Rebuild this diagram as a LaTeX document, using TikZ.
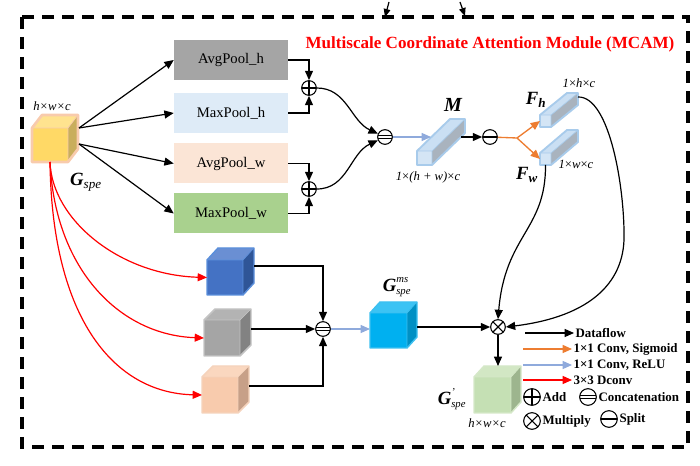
\documentclass[tikz,border=0pt]{standalone}
\usepackage{fontspec}
\setmainfont{Liberation Serif}
\usetikzlibrary{arrows.meta,fit,calc}
\definecolor{yelF}{HTML}{FFD966}\definecolor{yelT}{HTML}{FFE38F}\definecolor{yelS}{HTML}{C9AE5C}\definecolor{yelB}{HTML}{F8CBAD}
\definecolor{bluF}{HTML}{4472C4}\definecolor{bluT}{HTML}{6A8FD3}\definecolor{bluS}{HTML}{2F5597}\definecolor{bluB}{HTML}{5B8FDB}
\definecolor{gryF}{HTML}{A5A5A5}\definecolor{gryT}{HTML}{B3B3B3}\definecolor{gryS}{HTML}{828282}\definecolor{gryB}{HTML}{C4C4C4}
\definecolor{pchF}{HTML}{F8CBAD}\definecolor{pchT}{HTML}{FAD7BF}\definecolor{pchS}{HTML}{C7A088}\definecolor{pchB}{HTML}{F5D3BC}
\definecolor{cynF}{HTML}{00B0F0}\definecolor{cynT}{HTML}{3CC3F4}\definecolor{cynS}{HTML}{0090C4}\definecolor{cynB}{HTML}{3DC0F0}
\definecolor{grnF}{HTML}{C5E0B4}\definecolor{grnT}{HTML}{D2E7C4}\definecolor{grnS}{HTML}{9DB58E}\definecolor{grnB}{HTML}{D5E8C8}
\definecolor{barF}{HTML}{D4E5F5}\definecolor{barT}{HTML}{CADFF3}\definecolor{barS}{HTML}{A9B3BE}\definecolor{barB}{HTML}{A8CBEB}
\definecolor{cpah}{HTML}{A5A5A5}\definecolor{cpmh}{HTML}{DEEBF7}\definecolor{cpaw}{HTML}{FBE5D6}\definecolor{cpmw}{HTML}{A9D18E}
\definecolor{corg}{HTML}{ED7D31}\definecolor{cblu}{HTML}{8FAADC}
\newcommand\mycube[9][1.1pt]{%
 \fill[#9F] (#3,#4) rectangle ++(#5,#6);
 \fill[#9T] (#3,#4) -- ++(#7,-#8) -- ++(#5,0) -- ++(-#7,#8) -- cycle;
 \fill[#9S] (#3,#4) ++(#5,0) -- ++(#7,-#8) -- ++(0,#6) -- ++(-#7,#8) -- cycle;
 \draw[#9B, line width=0.5pt] (#3,#4) -- ++(#5,0) -- ++(0,#6) (#3,#4) ++(#5,0) -- ++(#7,-#8);
 \draw[#9B, line width=#1, line join=round] (#3,#4) ++(0,#6) -- ++(0,-#6) -- ++(#7,-#8) -- ++(#5,0) -- ++(0,#6) -- ++(-#7,#8) -- cycle;
 \node[fit={(#3,{#4-#8}) ({#3+#5+#7},{#4+#6})}, inner sep=0pt] (#2) {};
 \coordinate (#2-w) at (#3,{#4+#6/2});
 \coordinate (#2-s) at ({#3+#5/2},{#4+#6});
}
\tikzset{
 arr/.style={-{Triangle[length=7pt,width=6pt]}},
 ln/.style={line width=0.9pt},
 bl/.style={line width=0.9pt, cblu},
 org/.style={line width=1pt, corg},
 rd/.style={line width=0.9pt, red},
 box/.style={minimum width=85.5pt, minimum height=30pt, inner sep=0pt, font=\fontsize{11}{13}\selectfont},
 op/.style={circle, draw, line width=0.8pt, minimum size=11pt, inner sep=0pt, fill=white},
 opplus/.style={op, path picture={\draw[line width=0.8pt] (path picture bounding box.north) -- (path picture bounding box.south) (path picture bounding box.west) -- (path picture bounding box.east);}},
 optimes/.style={op, path picture={\draw[line width=0.8pt] (path picture bounding box.center) +(45:9pt) -- +(225:9pt) +(135:9pt) -- +(315:9pt);}},
 opcat/.style={op, path picture={\draw[line width=0.7pt] (path picture bounding box.center) +(-9pt,1.1pt) -- +(9pt,1.1pt) +(-9pt,-1.1pt) -- +(9pt,-1.1pt);}},
 opsplit/.style={op, path picture={\draw[line width=0.8pt] (path picture bounding box.west) -- (path picture bounding box.east);}},
 lg/.style={font=\fontsize{9.7}{11}\selectfont\bfseries, inner sep=1pt, anchor=west},
 dim/.style={font=\fontsize{9.5}{11}\selectfont\itshape, inner sep=0pt},
}
\begin{document}
\begin{tikzpicture}[x=0.75pt,y=-0.75pt]
\useasboundingbox (0,0) rectangle (700,466);
\draw[line width=2.3pt, dash pattern=on 9pt off 6pt] (22,17) rectangle (688,447);
\node[font=\fontsize{12.8}{14}\selectfont\bfseries, text=red, inner sep=0pt] (title) at (490,44) {Multiscale Coordinate Attention Module (MCAM)};
% arrows entering from above
\coordinate (ta1) at (389,2); \coordinate (ta1e) at (385,17);
\coordinate (ta2) at (460,2); \coordinate (ta2e) at (465,16);
\draw[ln,-{Triangle[length=6pt,width=5pt]}] (ta1) -- (ta1e);
\draw[ln,-{Triangle[length=6pt,width=5pt]}] (ta2) -- (ta2e);
% cubes and bars
\mycube[2pt]{gspe}{32}{128}{36}{34}{10}{13}{yel}
\mycube{cb1}{207}{260}{36}{35}{11}{12}{blu}
\mycube{cb2}{204}{320}{36}{36}{11}{11}{gry}
\mycube{cb3}{202}{377}{36}{36}{11}{11}{pch}
\mycube{gms}{370}{313}{37}{35}{10}{11}{cyn}
\mycube{gout}{474}{377}{37}{36}{10}{11}{grn}
\mycube[1.4pt]{mbar}{417}{151}{15}{14}{33}{32}{bar}
\mycube[1.4pt]{fh}{540}{115}{11}{12}{27}{22}{bar}
\mycube[1.4pt]{fw}{540}{153}{11}{12}{27}{23}{bar}
% pooling boxes
\node[box, fill=cpah] (pah) at (231,60) {AvgPool\_h};
\node[box, fill=cpmh] (pmh) at (231,113) {MaxPool\_h};
\node[box, fill=cpaw] (paw) at (231,163.5) {AvgPool\_w};
\node[box, fill=cpmw] (pmw) at (231,213.5) {MaxPool\_w};
% operators
\node[opplus] (add1) at (309,88) {};
\node[opplus] (add2) at (309,189) {};
\node[opcat] (cat1) at (385,137) {};
\node[opsplit] (split) at (490,137) {};
\node[opcat] (cat2) at (323,329) {};
\node[optimes] (mul) at (498,327) {};
% labels
\node[dim] (dg) at (52,106) {h×w×c};
\node[inner sep=0pt] (lgspe) at (86,182) {\fontsize{14}{16}\selectfont\bfseries\itshape G\textsubscript{\mdseries spe}};
\node[inner sep=0pt] (lM) at (453,105) {\fontsize{15}{17}\selectfont\bfseries\itshape M};
\node[dim] (dM) at (428,177) {1\textup{×}(h + w)\textup{×}c};
\node[inner sep=0pt] (lfh) at (536,100) {\fontsize{14}{16}\selectfont\bfseries\itshape F\textsubscript{h}};
\node[inner sep=0pt] (lfw) at (527,175) {\fontsize{14}{16}\selectfont\bfseries\itshape F\textsubscript{w}};
\node[dim] (dfh) at (579,83) {1\textup{×}h\textup{×}c};
\node[dim] (dfw) at (576,164) {1\textup{×}w\textup{×}c};
\node[inner sep=0pt] (lgms) at (397,287) {$\mbox{\fontsize{14}{16}\selectfont\bfseries\itshape G}^{\mbox{\fontsize{8}{9}\selectfont\itshape ms}}_{\mbox{\fontsize{8}{9}\selectfont\itshape spe}}$};
\node[inner sep=0pt] (lgo) at (452,399) {$\mbox{\fontsize{14}{16}\selectfont\bfseries\itshape G}^{\mbox{\fontsize{8}{9}\selectfont\itshape '}}_{\mbox{\fontsize{8}{9}\selectfont\itshape spe}}$};
\node[dim] (dgo) at (487,423) {h×w×c};
% connectors top part
\coordinate (g1) at (79,128); \coordinate (g2) at (79,144);
\draw[ln,arr] (g1) -- (pah.west);
\draw[ln,arr] (g1) -- (pmh.west);
\draw[ln,arr] (g2) -- (paw.west);
\draw[ln,arr] (g2) -- (pmw.west);
\draw[ln,arr] (pah.east) -| (add1);
\draw[ln,arr] (pmh.east) -| (add1);
\draw[ln,arr] (paw.east) -| (add2);
\draw[ln,arr] (pmw.east) -| (add2);
\draw[ln,arr] (add1) to[out=0,in=155] (cat1);
\draw[ln,arr] (add2) to[out=0,in=205] (cat1);
\coordinate (min) at (431,137);
\draw[bl,arr] (cat1) -- (min);
\coordinate (mout) at (461,137);
\draw[ln,arr] (mout) -- (split);
\coordinate (jn) at (517,138);
\draw[org] (split) -- (jn);
\draw[org,arr] (jn) -- (fh-w);
\draw[org,arr] (jn) -- (fw-w);
\coordinate (fho) at (578,97);
\draw[ln,arr] (fho) .. controls (610,96) and (625,190) .. (624,240) .. controls (622,290) and (580,318) .. (mul.east);
\draw[ln,arr] (fw-s) .. controls (546,230) and (505,235) .. (mul.north);
% red dconv
\draw[rd,arr] (gspe-s) .. controls (52,220) and (120,275) .. (cb1-w);
\draw[rd,arr] (gspe-s) .. controls (55,270) and (120,335) .. (cb2-w);
\draw[rd,arr] (gspe-s) .. controls (52,320) and (115,393) .. (cb3-w);
% bottom
\coordinate (b1o) at (254,266); \coordinate (b2o) at (251,329); \coordinate (b3o) at (249,386);
\draw[ln,arr] (b1o) -| (cat2);
\draw[ln,arr] (b2o) -- (cat2);
\draw[ln,arr] (b3o) -| (cat2);
\draw[line width=2.2pt] (b3o) -- (b3o -| cat2);
\draw[bl,arr] (cat2) -- (cat2 -| gms-w);
\coordinate (gmo) at (417,327);
\draw[ln,arr] (gmo) -- (mul);
\coordinate (gin) at (498,366);
\draw[ln,arr] (mul) -- (gin);
% legend
\node[lg] (t1) at (574,333) {Dataflow};
\node[lg] (t2) at (572,349) {1×1 Conv, Sigmoid};
\node[lg] (t3) at (572,365) {1×1 Conv, ReLU};
\node[lg] (t4) at (572,380) {3×3 Dconv};
\coordinate (l1) at (525,333); \coordinate (l2) at (523,349);
\coordinate (l3) at (523,365); \coordinate (l4) at (523,380);
\draw[ln,arr] (l1) -- (t1.west);
\draw[org,arr] (l2) -- (t2.west);
\draw[bl,arr] (l3) -- (t3.west);
\draw[rd,arr] (l4) -- (t4.west);
\node[opplus, minimum size=12.5pt] (la) at (532,397) {};
\node[lg] (ta) at (541,397) {Add};
\node[opcat, minimum size=12.5pt] (lc) at (588,397) {};
\node[lg] (tc) at (597,397) {Concatenation};
\node[optimes, minimum size=12.5pt] (lmu) at (532,421) {};
\node[lg] (tm) at (541,421) {Multiply};
\node[opsplit, minimum size=12.5pt] (lsp) at (609,419) {};
\node[lg] (ts) at (618,419) {Split};
\end{tikzpicture}
\end{document}
